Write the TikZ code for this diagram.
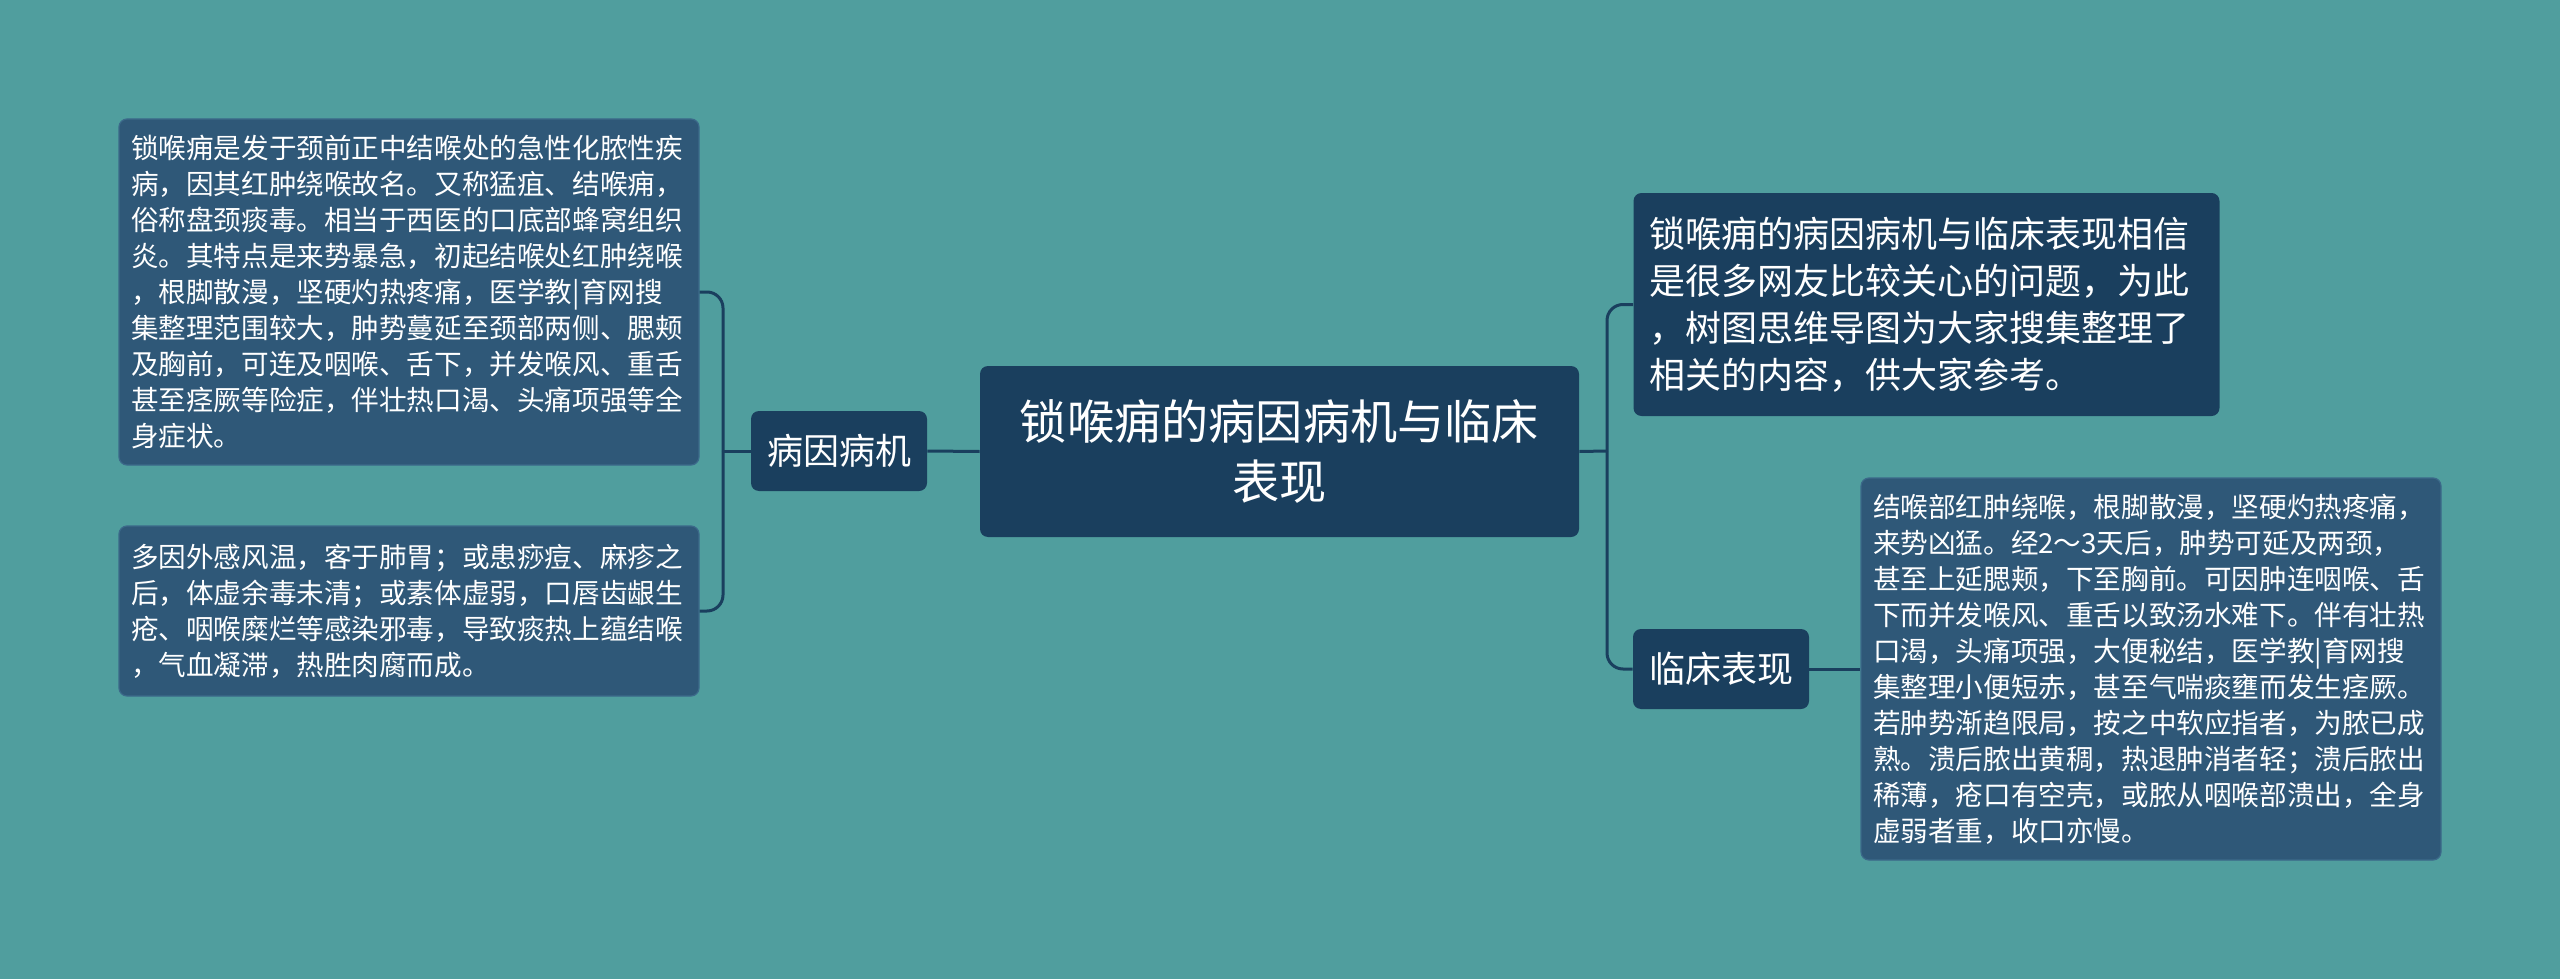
\documentclass[tikz,border=0pt]{standalone}
\usepackage{fontspec}
\newfontfamily\cjk{Noto Sans CJK SC}
\definecolor{bgteal}{RGB}{80,158,158}
\definecolor{darknode}{RGB}{26,63,94}
\definecolor{leafnode}{RGB}{47,88,120}
\definecolor{leafedge}{RGB}{60,105,138}

\begin{document}
\begin{tikzpicture}[x=0.5pt,y=-0.5pt,
    rootbox/.style={fill=darknode, rounded corners=4pt, text=white, align=center,
        minimum width=299.5pt, minimum height=85.5pt, inner sep=0pt,
        font=\cjk\fontsize{23.6}{30}\selectfont},
    branchbox/.style={fill=darknode, rounded corners=4pt, text=white,
        minimum width=88pt, minimum height=40pt, inner sep=0pt,
        font=\cjk\fontsize{18}{22}\selectfont},
    notebox/.style={fill=darknode, rounded corners=4pt, text=white, align=left,
        inner xsep=8pt, inner ysep=0pt, text width=277pt, minimum height=111.5pt,
        font=\cjk\fontsize{18}{23.6}\selectfont},
    leafbox/.style={fill=leafnode, draw=leafedge, line width=0.6pt, rounded corners=4pt,
        text=white, align=left, inner xsep=6pt, inner ysep=0pt, text width=278pt,
        font=\cjk\fontsize{13.8}{18}\selectfont},
    conn/.style={draw=darknode, line width=1.5pt}]
    \fill[bgteal] (0,0) rectangle (2560,979);
    \useasboundingbox (0,0) rectangle (2560,979);

    % centre and branches
    \node[rootbox] (root) at (1279.5,451.5) {锁喉痈的病因病机与临床\\表现};
    \node[branchbox] (cause) at (839,451) {病因病机};
    \node[branchbox] (sign) at (1721,669) {临床表现};
    \node[notebox] (intro) at (1926.5,304.5) {锁喉痈的病因病机与临床表现相信\\是很多网友比较关心的问题，为此\\，树图思维导图为大家搜集整理了\\相关的内容，供大家参考。};

    % leaves
    \node[leafbox, minimum height=173pt] (causeA) at (409,292) {锁喉痈是发于颈前正中结喉处的急性化脓性疾\\病，因其红肿绕喉故名。又称猛疽、结喉痈，\\俗称盘颈痰毒。相当于西医的口底部蜂窝组织\\炎。其特点是来势暴急，初起结喉处红肿绕喉\\，根脚散漫，坚硬灼热疼痛，医学教|育网搜\\集整理范围较大，肿势蔓延至颈部两侧、腮颊\\及胸前，可连及咽喉、舌下，并发喉风、重舌\\甚至痉厥等险症，伴壮热口渴、头痛项强等全\\身症状。};
    \node[leafbox, minimum height=85pt] (causeB) at (409,611) {多因外感风温，客于肺胃；或患痧痘、麻疹之\\后，体虚余毒未清；或素体虚弱，口唇齿龈生\\疮、咽喉糜烂等感染邪毒，导致痰热上蕴结喉\\，气血凝滞，热胜肉腐而成。};
    \node[leafbox, minimum height=191pt] (signA) at (2151,669) {结喉部红肿绕喉，根脚散漫，坚硬灼热疼痛，\\来势凶猛。经2～3天后，肿势可延及两颈，\\甚至上延腮颊，下至胸前。可因肿连咽喉、舌\\下而并发喉风、重舌以致汤水难下。伴有壮热\\口渴，头痛项强，大便秘结，医学教|育网搜\\集整理小便短赤，甚至气喘痰壅而发生痉厥。\\若肿势渐趋限局，按之中软应指者，为脓已成\\熟。溃后脓出黄稠，热退肿消者轻；溃后脓出\\稀薄，疮口有空壳，或脓从咽喉部溃出，全身\\虚弱者重，收口亦慢。};

    % connectors
    \coordinate (jl) at (723,451);
    \coordinate (jr) at (1607,451);
    \draw[conn] (root.west) -- (cause.east);
    \draw[conn] (cause.west) -- (jl);
    \draw[conn, rounded corners=8pt] (jl) |- (causeA.east);
    \draw[conn, rounded corners=8pt] (jl) |- (causeB.east);
    \draw[conn] (root.east) -- (jr);
    \draw[conn, rounded corners=8pt] (jr) |- (intro.west);
    \draw[conn, rounded corners=8pt] (jr) |- (sign.west);
    \draw[conn] (sign.east) -- (signA.west);
\end{tikzpicture}
\end{document}
